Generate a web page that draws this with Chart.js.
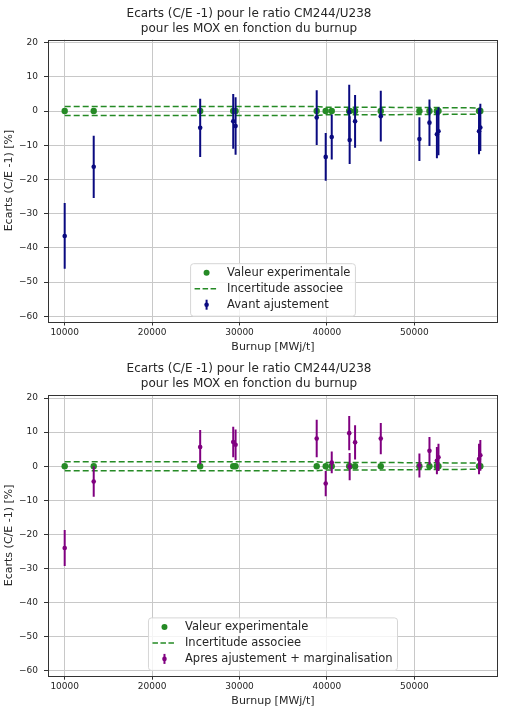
<!DOCTYPE html>
<html><head><meta charset="utf-8">
<script src="https://cdn.jsdelivr.net/npm/chart.js@4.4.0/dist/chart.umd.min.js"></script>
<style>
html,body{margin:0;padding:0;background:#fff;}
#wrap{position:relative;width:505px;height:707px;}
canvas{position:absolute;left:0;}
</style></head><body>
<div id="wrap">
<canvas id="c1" width="505" height="353" style="top:0px"></canvas>
<canvas id="c2" width="505" height="354" style="top:353px"></canvas>
</div>
<script>
// ---- data ----
const burnup        = [10000,13320,25500,29280,29550,38830,39860,40550,42550,42600,43220,46160,50580,51730,52580,52760,57400,57550];
const experimentale = [0,0,0,0,0,0,0,0,0,0,0,0,0,0,0,0,0,0];
const incertitude   = [1.3,1.3,1.3,1.3,1.3,1.3,1.1,1.1,1.1,1.1,1.1,1.1,1.0,1.0,1.0,1.0,0.9,0.9];
const ecartAvant    = [-36.5,-16.3,-4.9,-3.0,-4.4,-1.9,-13.4,-7.6,-0.3,-8.5,-3.0,-1.5,-8.2,-3.4,-6.8,-5.9,-5.9,-4.8];
const errAvant      = [9.6,9.1,8.5,8.0,8.4,8.0,7.0,6.6,8.0,7.0,7.7,7.4,6.4,6.8,7.0,7.0,6.7,6.9];
const ecartApres    = [-24.0,-4.5,5.6,7.1,6.3,8.1,-5.1,1.1,9.7,-0.1,7.0,8.1,0.2,4.5,1.6,2.6,2.1,3.2];
const errApres      = [5.3,4.5,5.0,4.5,4.5,5.5,3.7,3.2,5.0,4.0,5.0,4.6,3.5,4.1,4.0,4.0,4.5,4.5];
const xTicks = [10000,20000,30000,40000,50000];
const yTicks = [-60,-50,-40,-30,-20,-10,0,10,20];
const titleLines = ['Ecarts (C/E -1) pour le ratio CM244/U238','pour les MOX en fonction du burnup'];
const xLabel = 'Burnup [MWj/t]';
const yLabel = 'Ecarts (C/E -1) [%]';
const legendTexts1 = ['Valeur experimentale','Incertitude associee','Avant ajustement'];
const legendTexts2 = ['Valeur experimentale','Incertitude associee','Apres ajustement + marginalisation'];

Chart.defaults.font.family = '"DejaVu Sans", sans-serif';
Chart.defaults.color = '#262626';

const GREEN = '#258a25';
const TXT = '#262626';

const errorBars = {
  id: 'errorBars',
  beforeDatasetDraw(chart, args) {
    const ds = chart.data.datasets[args.index];
    if (!ds.errors) return;
    const ctx = chart.ctx, x = chart.scales.x, y = chart.scales.y, a = chart.chartArea;
    ctx.save();
    ctx.beginPath(); ctx.rect(a.left, a.top, a.right - a.left, a.bottom - a.top); ctx.clip();
    ctx.strokeStyle = ds.borderColor; ctx.lineWidth = 2;
    ds.data.forEach((p, i) => {
      const px = x.getPixelForValue(p.x);
      ctx.beginPath();
      ctx.moveTo(px, y.getPixelForValue(p.y + ds.errors[i]));
      ctx.lineTo(px, y.getPixelForValue(p.y - ds.errors[i]));
      ctx.stroke();
    });
    ctx.restore();
  }
};

const frame = {
  id: 'frame',
  afterDatasetsDraw(chart) {
    const ctx = chart.ctx, a = chart.chartArea;
    ctx.save();
    ctx.strokeStyle = '#333'; ctx.lineWidth = 1;
    ctx.strokeRect(Math.round(a.left) + 0.5, Math.round(a.top) + 0.5, Math.round(a.right - a.left) - 1, Math.round(a.bottom - a.top));
    ctx.restore();
  }
};

function makeLegend(texts, color) {
  return {
    id: 'boxLegend',
    afterDraw(chart) {
      const ctx = chart.ctx, a = chart.chartArea;
      ctx.save();
      ctx.font = '11.5px "DejaVu Sans"';
      const tw = Math.max(...texts.map(t => ctx.measureText(t).width));
      const w = 36.5 + tw + 5, h = 52.5;
      const x0 = (a.left + a.right) / 2 - w / 2, y0 = a.bottom - 5.3 - h;
      ctx.beginPath();
      ctx.roundRect(x0, y0, w, h, 3);
      ctx.fillStyle = 'rgba(255,255,255,0.8)'; ctx.fill();
      ctx.strokeStyle = '#d6d6d6'; ctx.lineWidth = 1; ctx.stroke();
      const rows = [y0 + 9, y0 + 25, y0 + 41];
      // dot
      ctx.fillStyle = GREEN;
      ctx.beginPath(); ctx.arc(x0 + 16, rows[0], 3, 0, Math.PI * 2); ctx.fill();
      // dashed
      ctx.strokeStyle = GREEN; ctx.lineWidth = 1.5; ctx.setLineDash([5.5, 2.5]);
      ctx.beginPath(); ctx.moveTo(x0 + 4, rows[1]); ctx.lineTo(x0 + 27, rows[1]); ctx.stroke();
      ctx.setLineDash([]);
      // errorbar
      ctx.strokeStyle = color; ctx.lineWidth = 2;
      ctx.beginPath(); ctx.moveTo(x0 + 16, rows[2] - 5); ctx.lineTo(x0 + 16, rows[2] + 5); ctx.stroke();
      ctx.fillStyle = color;
      ctx.beginPath(); ctx.arc(x0 + 16, rows[2], 2.3, 0, Math.PI * 2); ctx.fill();
      ctx.fillStyle = TXT; ctx.textBaseline = 'middle'; ctx.textAlign = 'left';
      texts.forEach((t, i) => ctx.fillText(t, x0 + 36.5, rows[i] + 0.5));
      ctx.restore();
    }
  };
}

function fmt(v) { return v < 0 ? '\u2212' + Math.abs(v) : String(v); }

function makeChart(id, vals, errs, color, texts, titlePad, xH) {
  const pts = burnup.map((b, i) => ({x: b, y: vals[i]}));
  const exp = burnup.map((b, i) => ({x: b, y: experimentale[i]}));
  const up = burnup.map((b, i) => ({x: b, y: incertitude[i]}));
  const lo = burnup.map((b, i) => ({x: b, y: -incertitude[i]}));
  return new Chart(document.getElementById(id), {
    type: 'scatter',
    data: {
      datasets: [
        {label: texts[2], data: pts, errors: errs, backgroundColor: color, borderColor: color, pointRadius: 2.3, pointBorderWidth: 0, order: 0},
        {label: texts[0], data: exp, backgroundColor: GREEN, borderColor: GREEN, pointRadius: 3.2, pointBorderWidth: 0, order: 1},
        {type: 'line', label: texts[1], data: up, borderColor: GREEN, borderWidth: 1.5, borderDash: [6, 3], pointRadius: 0, fill: false, tension: 0, order: 2},
        {type: 'line', label: '_', data: lo, borderColor: GREEN, borderWidth: 1.5, borderDash: [6, 3], pointRadius: 0, fill: false, tension: 0, order: 3}
      ]
    },
    options: {
      responsive: false, animation: false, devicePixelRatio: 1,
      events: [],
      layout: {padding: {left: 0, right: 7, top: 0, bottom: 0}},
      plugins: {
        legend: {display: false}, tooltip: {enabled: false},
        title: {display: true, text: titleLines, color: TXT, font: {size: 12, weight: 'normal', lineHeight: '15px'}, padding: titlePad}
      },
      scales: {
        x: {
          type: 'linear', min: 8090, max: 59570,
          afterBuildTicks: s => { s.ticks = xTicks.map(v => ({value: v})); },
          afterFit: s => { s.height = xH; },
          ticks: {font: {size: 9}, color: TXT, padding: 2, maxRotation: 0, callback: v => String(v)},
          grid: {color: '#c8c8c8', lineWidth: 1, tickColor: '#333', tickLength: 4},
          border: {display: false},
          title: {display: true, text: xLabel, color: TXT, font: {size: 11, lineHeight: 1.1}, padding: {top: 0, bottom: 0}}
        },
        y: {
          type: 'linear', min: -61.5, max: 20.9,
          afterBuildTicks: s => { s.ticks = yTicks.map(v => ({value: v})); },
          afterFit: s => { s.width = 48; },
          ticks: {font: {size: 9}, color: TXT, padding: 6, callback: v => fmt(v)},
          grid: {color: '#c8c8c8', lineWidth: 1, tickColor: '#333', tickLength: 4},
          border: {display: false},
          title: {display: true, text: yLabel, color: TXT, font: {size: 11, lineHeight: 1.1}, padding: {top: 3, bottom: 0}}
        }
      }
    },
    plugins: [errorBars, frame, makeLegend(texts, color)]
  });
}

makeChart('c1', ecartAvant, errAvant, '#0a0a80', legendTexts1, {top: 6.5, bottom: 3}, 31.5);
makeChart('c2', ecartApres, errApres, '#800080', legendTexts2, {top: 8.5, bottom: 3.5}, 31.3);
</script>
</body></html>
